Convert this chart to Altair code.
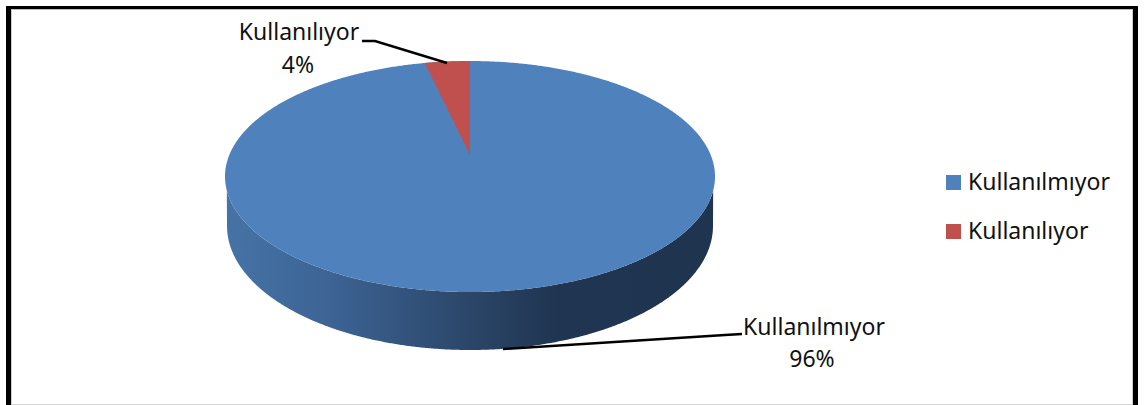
import numpy as np
import pandas as pd
import altair as alt

# Share of respondents per answer, in percent.
categories = ["Kullanılmıyor", "Kullanılıyor"]
shares = [96, 4]
colors = ["#4f81bd", "#c0504d"]

W, H = 1147, 405
FONT = "Noto Sans"
FONT_SIZE = 23

# Tilted-disc geometry of the 3D pie, in chart pixels.
CX, CY, RX, RY = 470.0, 176.5, 245.0, 115.5
BASE_CY, BASE_RX, BASE_RY = 226.0, 243.0, 124.0
APEX_Y = 155.0
BACK_COMPRESSION = 0.74  # perspective narrows slices at the far rim

sweep = np.linspace(0, np.pi, 541)
disc_x = CX - RX * np.cos(sweep)
disc_top = CY - RY * np.sin(sweep)
disc_bottom = CY + RY * np.sin(sweep)

# Wall below the front rim: widest of the top disc edge and the base ellipse.
base = BASE_CY + BASE_RY * np.sqrt(np.clip(1 - ((disc_x - CX) / BASE_RX) ** 2, 0, 1))
base[np.abs(disc_x - CX) >= BASE_RX] = 0
wall_bottom = np.maximum(disc_bottom, base)

disc = pd.DataFrame({"x": disc_x, "y": disc_top, "y2": disc_bottom, "series": categories[0]})
wall = pd.DataFrame({"x": disc_x, "y": disc_bottom, "y2": wall_bottom})

# The small slice runs from the rim back to its apex, ending at twelve o'clock.
theta = 2 * np.pi * shares[1] / 100 * BACK_COMPRESSION
rim = np.linspace(theta, 0, 40)
rim_x = CX - RX * np.sin(rim)
rim_y = CY - RY * np.cos(rim)
edge_y = rim_y[0] + (APEX_Y - rim_y[0]) * (rim_x - rim_x[0]) / (CX - rim_x[0])
wedge = pd.DataFrame({"x": rim_x, "y": rim_y, "y2": edge_y, "series": categories[1]})

x_enc = alt.X("x:Q", scale=alt.Scale(domain=[0, W], range=[0, W]), axis=None)
y_enc = alt.Y("y:Q", scale=alt.Scale(domain=[0, H], range=[0, H]), axis=None, stack=None)
color_enc = alt.Color(
    "series:N",
    scale=alt.Scale(domain=categories, range=colors),
    legend=alt.Legend(
        title=None,
        orient="none",
        legendX=942,
        legendY=171,
        symbolType="square",
        symbolSize=225,
        symbolStrokeWidth=0,
        symbolOpacity=1,
        labelFont=FONT,
        labelFontSize=FONT_SIZE,
        labelColor="#111111",
        labelLimit=300,
        labelOffset=3,
        rowPadding=25,
    ),
)

wall_fill = alt.Gradient(
    gradient="linear",
    x1=0, x2=1, y1=0, y2=0,
    stops=[
        alt.GradientStop(offset=0.0, color="#4673a6"),
        alt.GradientStop(offset=0.22, color="#3c6394"),
        alt.GradientStop(offset=0.5, color="#2b4668"),
        alt.GradientStop(offset=0.68, color="#1f3551"),
        alt.GradientStop(offset=1.0, color="#1f344f"),
    ],
)

wall_layer = alt.Chart(wall).mark_area(fill=wall_fill, opacity=1).encode(x_enc, y_enc, y2="y2:Q")
disc_layer = alt.Chart(disc).mark_area(opacity=1).encode(x_enc, y_enc, y2="y2:Q", color=color_enc)
wedge_layer = alt.Chart(wedge).mark_area(opacity=1).encode(x_enc, y_enc, y2="y2:Q", color=color_enc)

# Leader lines from the data labels to their slices.
leaders = pd.DataFrame(
    {
        "x": [362, 375, 447, 742, 725, 503],
        "y": [41, 41, 63, 334, 335, 349],
        "series": [categories[1]] * 3 + [categories[0]] * 3,
        "step": [0, 1, 2, 0, 1, 2],
    }
)
leader_layer = (
    alt.Chart(leaders)
    .mark_line(color="black", strokeWidth=2.5)
    .encode(x_enc, y_enc, detail="series:N", order="step:Q")
)

# Data labels: name on one line, percentage below it.
labels = pd.DataFrame(
    {
        "x": [299, 298, 814, 812],
        "y": [33, 66, 328, 360],
        "text": [categories[1], f"{shares[1]}%", categories[0], f"{shares[0]}%"],
    }
)
label_layer = (
    alt.Chart(labels)
    .mark_text(font=FONT, fontSize=FONT_SIZE, color="#111111", baseline="middle", align="center")
    .encode(x_enc, y_enc, text="text:N")
)

# Picture frame: heavy black on three sides, hairline grey inside.
def band(x, x2, y, y2, color):
    return (
        alt.Chart(alt.Data(values=[{}]))
        .mark_rect(color=color)
        .encode(x=alt.value(x), x2=alt.value(x2), y=alt.value(y), y2=alt.value(y2))
    )

frame = [
    band(11, 1133, 9, 10, "#bbbbbb"),
    band(11, 12, 9, 405, "#cccccc"),
    band(1132, 1133, 9, 405, "#cccccc"),
    band(11, 1133, 404, 405, "#d4d4d4"),
    band(6, 11, 6, 405, "#000000"),
    band(6, 1138, 6, 9, "#000000"),
    band(1133, 1138, 6, 405, "#000000"),
]

chart = (
    alt.layer(*frame, wall_layer, disc_layer, wedge_layer, leader_layer, label_layer)
    .properties(width=W, height=H, padding=0, autosize=alt.AutoSizeParams(type="none"), background="white")
    .configure_view(stroke=None)
)

chart.save("out.html", embed_options={"renderer": "svg", "actions": False})
